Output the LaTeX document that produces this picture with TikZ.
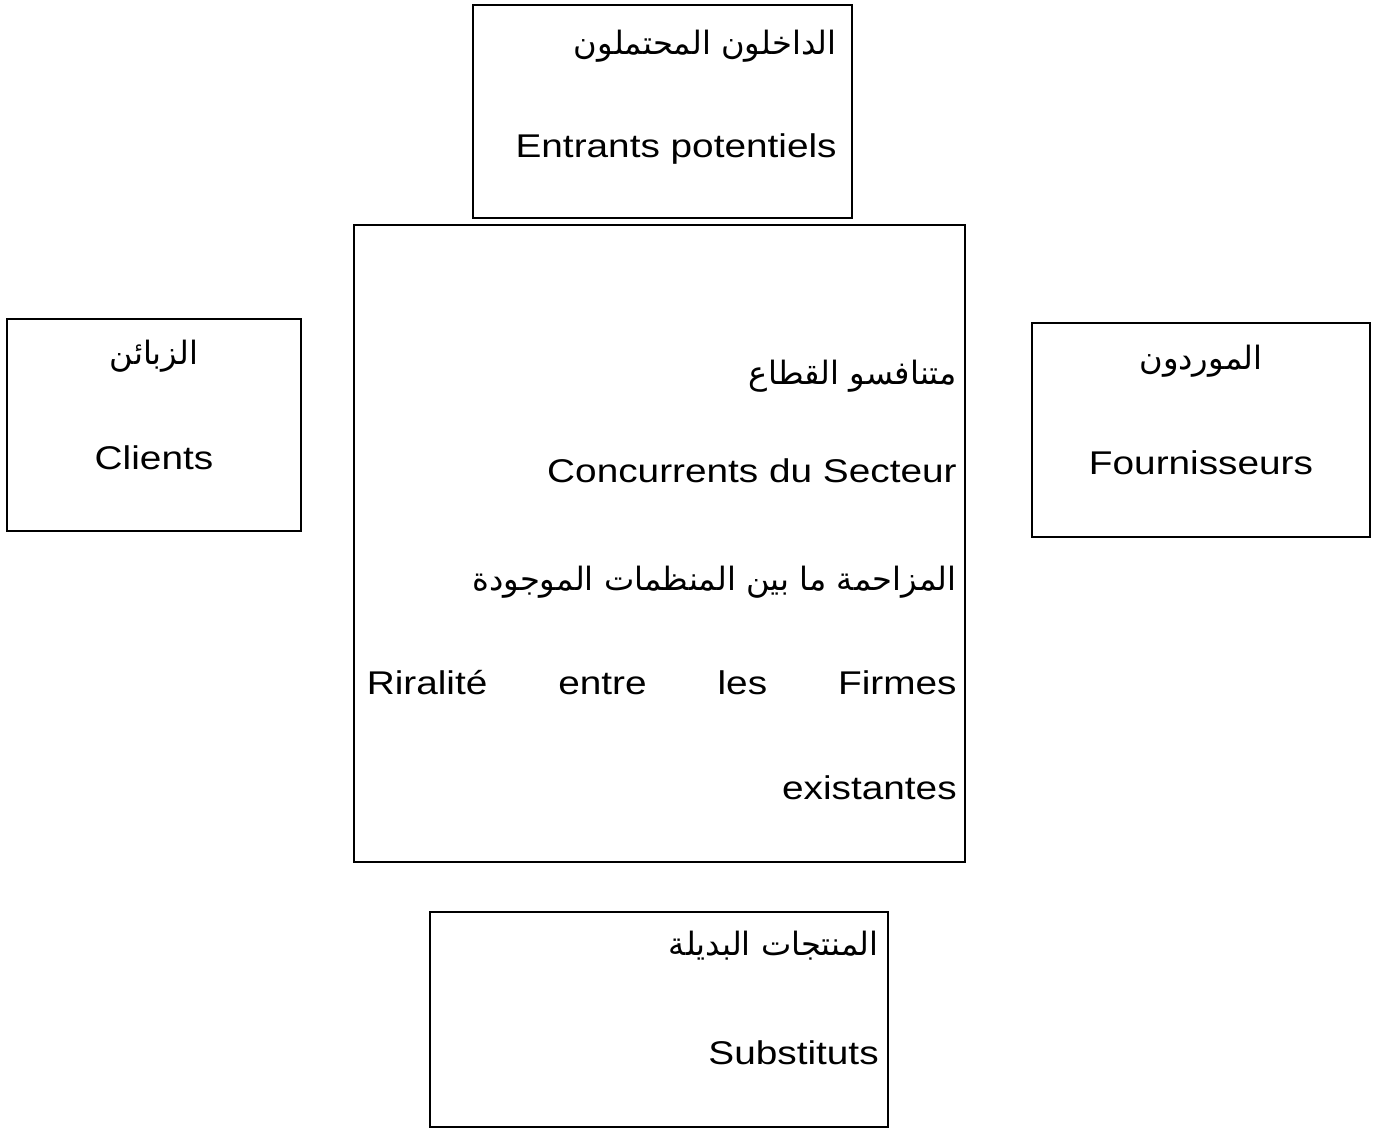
\documentclass[tikz,border=0pt]{standalone}
\usepackage{fontspec}
\setmainfont{Liberation Sans}[FakeStretch=1.18]
\newfontfamily\arabicfont[Script=Arabic]{DejaVu Sans}
\TeXXeTstate=1
\newcommand{\artxt}[1]{{\arabicfont\fontsize{18.3}{22}\selectfont\beginR #1\endR}}
\usepackage{tikz}
\usetikzlibrary{positioning}

\begin{document}
\begin{tikzpicture}[
    x=0.02cm, y=-0.02cm,
    every node/.style={font=\fontsize{18.7}{22}\selectfont, inner sep=0pt},
    forcebox/.style={draw, line width=1.2pt, rectangle}
  ]
    \useasboundingbox (0,0) rectangle (1386,1131);

    % Forces - boxes
    \node[forcebox, minimum width=7.58cm, minimum height=4.26cm] (entrants) at (662.5,111.5) {};
    \node[forcebox, minimum width=12.22cm, minimum height=12.74cm] (secteur) at (659.5,543.5) {};
    \node[forcebox, minimum width=5.88cm, minimum height=4.24cm] (clients) at (154,425) {};
    \node[forcebox, minimum width=6.76cm, minimum height=4.28cm] (fourn) at (1201,430) {};
    \node[forcebox, minimum width=9.16cm, minimum height=4.30cm] (subst) at (659,1019.5) {};

    % Labels - Arabic line above, French line below
    \node[anchor=base east] (entrantsar) at ([xshift=-0.32cm, yshift=-1.02cm]entrants.north east) {\artxt{الداخلون المحتملون}};
    \node[anchor=base east] (entrantsfr) at ([xshift=-0.32cm, yshift=-3.08cm]entrants.north east) {Entrants potentiels};

    \node[anchor=base east] (secteurar) at ([xshift=-0.18cm, yshift=-3.22cm]secteur.north east) {\artxt{متنافسو القطاع}};
    \node[anchor=base east] (secteurfr) at ([xshift=-0.18cm, yshift=-5.18cm]secteur.north east) {Concurrents du Secteur};
    \node[anchor=base east] (rivalar) at ([xshift=-0.18cm, yshift=-7.34cm]secteur.north east) {\artxt{المزاحمة ما بين المنظمات الموجودة}};
    \node[anchor=base east] (rivalfr) at ([xshift=-0.18cm, yshift=-9.42cm]secteur.north east) {\makebox[11.8cm][s]{Riralité entre les Firmes}};
    \node[anchor=base east] (rivalfrb) at ([xshift=-0.18cm, yshift=-11.52cm]secteur.north east) {existantes};

    \node[anchor=base] (clientsar) at ([yshift=-0.94cm]clients.north) {\artxt{الزبائن}};
    \node[anchor=base] (clientsfr) at ([yshift=-3.04cm]clients.north) {Clients};

    \node[anchor=base] (fournar) at ([yshift=-0.96cm]fourn.north) {\artxt{الموردون}};
    \node[anchor=base] (fournfr) at ([yshift=-3.06cm]fourn.north) {Fournisseurs};

    \node[anchor=base east] (substar) at ([xshift=-0.20cm, yshift=-0.90cm]subst.north east) {\artxt{المنتجات البديلة}};
    \node[anchor=base east] (substfr) at ([xshift=-0.20cm, yshift=-3.08cm]subst.north east) {Substituts};

  \end{tikzpicture}
\end{document}
